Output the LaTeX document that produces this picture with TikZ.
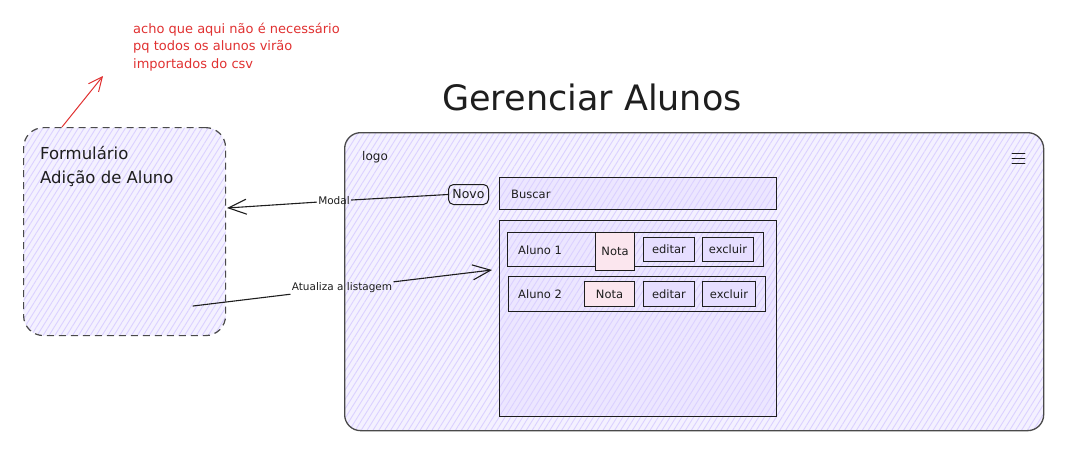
\documentclass[tikz,border=0pt]{standalone}
\usepackage{fontspec}
\setmainfont{DejaVu Sans}
\usetikzlibrary{arrows.meta,patterns.meta}

\definecolor{ink}{HTML}{1E1E1E}
\definecolor{frame}{HTML}{4A4A4A}
\definecolor{lavbg}{HTML}{F4F1FF}
\definecolor{lavline}{HTML}{DBD1FF}
\definecolor{lavbox}{HTML}{ECE6FF}
\definecolor{lavbtn}{HTML}{E6DEFF}
\definecolor{pinkbg}{HTML}{FBE6EE}
\definecolor{note}{HTML}{E03131}

\tikzset{
  hatch/.style={preaction={fill=#1},
    pattern={Lines[angle=58,distance=5pt,line width=0.9pt]},
    pattern color=lavline},
  hatch/.default=lavbg,
  panel/.style={draw=ink, line width=1pt, inner sep=0pt, anchor=north west},
  btn/.style={panel, font=\fontsize{11.5}{13}\selectfont, text=ink},
  txt/.style={inner sep=0pt, anchor=base west, text=ink},
  memo/.style={inner sep=0pt, anchor=base west, text=note, font=\fontsize{13}{15}\selectfont},
  formfont/.style={txt, font=\fontsize{16.5}{20}\selectfont},
  lbl/.style={inner sep=1.5pt, text=ink, font=\fontsize{10.5}{12}\selectfont},
  conn/.style={draw=ink, line width=1.1pt, line cap=round},
  tip/.style={-{Straight Barb[length=18pt,width=15pt,line width=1.1pt]}},
}

\begin{document}
\begin{tikzpicture}[x=1pt,y=-1pt]
  \useasboundingbox (0,0) rectangle (1081,461);

  % side note in red
  \node[memo] (memo1) at (133,33) {acho que aqui não é necessário};
  \node[memo] (memo2) at (133,50.5) {pq todos os alunos virão};
  \node[memo] (memo3) at (133,68) {importados do csv};
  \coordinate (memofrom) at (62,127);
  \coordinate (memoto) at (103,76);
  \draw[draw=note, line width=1pt, line cap=round,
        -{Straight Barb[length=14pt,width=13pt,line width=1pt]}] (memofrom) -- (memoto);

  % form modal (dashed)
  \node[panel, hatch, draw=frame, line width=1.2pt, dash pattern=on 7pt off 5pt,
        rounded corners=20pt, minimum width=202pt, minimum height=208pt] (form) at (23,127) {};
  \node[formfont] (formtxt1) at (40,159) {Formulário};
  \node[formfont] (formtxt2) at (40,183) {Adição de Aluno};

  % title
  \node[inner sep=0pt, anchor=base, text=ink, font=\fontsize{35}{40}\selectfont] (title) at (592,110)
    {Gerenciar Alunos};

  % main screen
  \node[panel, hatch, draw=frame, line width=1.3pt, rounded corners=16pt,
        minimum width=699pt, minimum height=298pt] (screen) at (344,132) {};
  \node[txt, font=\fontsize{12}{14}\selectfont] (logo) at (362,160) {logo};
  \draw[draw=ink, line width=0.8pt, line cap=round]
    (1012,153) -- (1025,153) (1012,158) -- (1025,158) (1012,163) -- (1025,163);

  \node[btn, rounded corners=5pt, minimum width=40pt, minimum height=20pt,
        font=\fontsize{12.5}{14}\selectfont] (novo) at (448,184) {Novo};

  \node[panel, hatch=lavbox, minimum width=277pt, minimum height=32pt] (busca) at (499,177) {};
  \node[txt, font=\fontsize{11.5}{13}\selectfont] (buscatxt) at (511,198) {Buscar};

  \node[panel, hatch=lavbox, minimum width=277pt, minimum height=196pt] (lista) at (499,220) {};

  % row 1
  \node[panel, hatch=lavbox, minimum width=256pt, minimum height=34pt] (row1) at (507,232) {};
  \node[txt, font=\fontsize{11.5}{13}\selectfont] (nome1) at (518,254) {Aluno 1};
  \node[btn, fill=pinkbg, minimum width=39pt, minimum height=38pt] (nota1) at (595,232) {Nota};
  \node[btn, fill=lavbtn, minimum width=51pt, minimum height=24pt] (edit1) at (643,237) {editar};
  \node[btn, fill=lavbtn, minimum width=51pt, minimum height=24pt] (excl1) at (702,237) {excluir};

  % row 2
  \node[panel, hatch=lavbox, minimum width=257pt, minimum height=35pt] (row2) at (508,276) {};
  \node[txt, font=\fontsize{11.5}{13}\selectfont] (nome2) at (518,298) {Aluno 2};
  \node[btn, fill=pinkbg, minimum width=50pt, minimum height=25pt] (nota2) at (584,281) {Nota};
  \node[btn, fill=lavbtn, minimum width=51pt, minimum height=25pt] (edit2) at (643,281) {editar};
  \node[btn, fill=lavbtn, minimum width=53pt, minimum height=25pt] (excl2) at (702,281) {excluir};

  % connectors
  \node[lbl] (modal) at (334,201) {Modal};
  \coordinate (formin) at (227,208);
  \draw[conn] (novo.west) -- (modal);
  \draw[conn, tip] (modal) -- (formin);

  \node[lbl] (atual) at (342,288) {Atualiza a listagem};
  \coordinate (formout) at (193,306);
  \coordinate (listin) at (492,270);
  \draw[conn] (formout) -- (atual);
  \draw[conn, tip] (atual) -- (listin);
\end{tikzpicture}
\end{document}
